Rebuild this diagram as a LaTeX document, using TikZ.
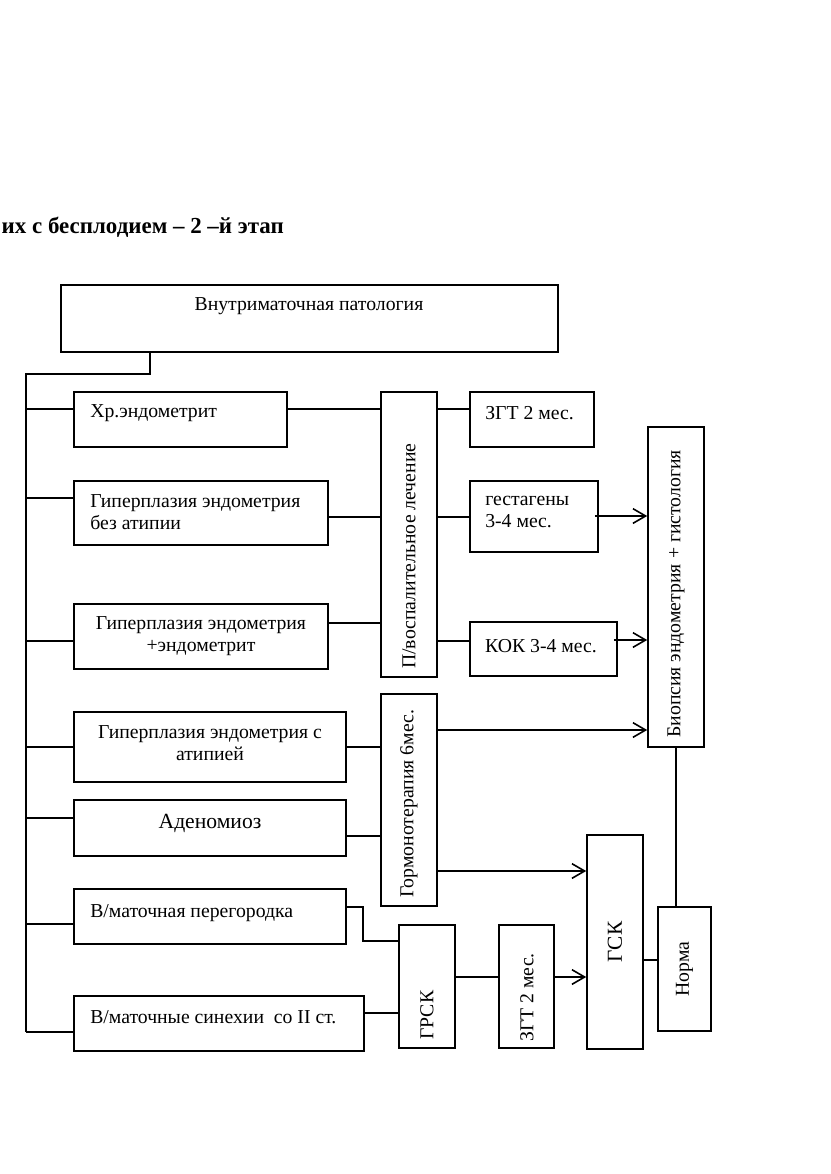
\documentclass[tikz,border=0pt]{standalone}
\usepackage{fontspec}
\setmainfont{Liberation Serif}
\usetikzlibrary{arrows.meta,fit}

\begin{document}
\begin{tikzpicture}
		[x=0.75pt,y=-0.75pt,
		%Styles
		box/.style={draw,line width=1.2pt,inner sep=0pt,fit={#1}},
		txt/.style={inner sep=0pt,font=\fontsize{14.8}{16.5}\selectfont},
		vtxt/.style={txt,rotate=90,anchor=west},
		link/.style={line width=1.2pt},
		arrow/.style={link,-{Straight Barb[length=9.5pt,width=11pt]}}
		]
		
		\useasboundingbox (0,0) rectangle (831,1174);
		
		%Title
		\node[txt,font=\fontsize{17.2}{19}\selectfont\bfseries,anchor=base east] (title) at (284,233) {их с бесплодием – 2 –й этап};
		
		%Boxes
		\node[box={(61,285)(558,352)}] (top) {};
		\node[txt] (top-t) at (309,306) {Внутриматочная патология};
		
		\node[box={(74,392)(287,447)}] (hr) {};
		\node[txt,anchor=west] (hr-t) at (90,413) {Хр.эндометрит};
		\node[box={(74,481)(328,545)}] (hyp1) {};
		\node[txt,anchor=west,align=left] (hyp1-t) at (90,512) {Гиперплазия эндометрия\\без атипии};
		\node[box={(74,604)(328,669)}] (hyp2) {};
		\node[txt,align=center] (hyp2-t) at (hyp2) {Гиперплазия эндометрия\\+эндометрит};
		\node[box={(74,712)(346,782)}] (hyp3) {};
		\node[txt,align=center] (hyp3-t) at (210,743) {Гиперплазия эндометрия с\\атипией};
		\node[box={(74,800)(346,856)}] (aden) {};
		\node[txt,font=\fontsize{16.2}{18}\selectfont] (aden-t) at (210,823) {Аденомиоз};
		\node[box={(74,889)(346,944)}] (sept) {};
		\node[txt,anchor=west] (sept-t) at (90,913) {В/маточная перегородка};
		\node[box={(74,996)(364,1051)}] (syn) {};
		\node[txt,anchor=west] (syn-t) at (90,1017) {В/маточные синехии\ \ со II ст.};
		
		\node[box={(381,392)(437,677)}] (pv) {};
		\node[vtxt] (pv-t) at (409,669) {П/воспалительное лечение};
		\node[box={(381,694)(437,906)}] (gt) {};
		\node[vtxt] (gt-t) at (409,898) {Гормонотерапия 6мес.};
		
		\node[box={(470,392)(594,447)}] (zgt) {};
		\node[txt,anchor=west] (zgt-t) at (485,413) {ЗГТ 2 мес.};
		\node[box={(470,481)(598,552)}] (gest) {};
		\node[txt,anchor=west,align=left] (gest-t) at (485,512) {гестагены\\3-4 мес.};
		\node[box={(470,622)(617,676)}] (kok) {};
		\node[txt] (kok-t) at (541,646) {КОК 3-4 мес.};
		
		\node[box={(399,925)(455,1048)}] (grsk) {};
		\node[vtxt] (grsk-t) at (427,1040) {ГРСК};
		\node[box={(499,925)(554,1048)}] (zgt2) {};
		\node[vtxt] (zgt2-t) at (527,1042) {ЗГТ 2 мес.};
		
		\node[box={(648,427)(704,747)}] (biop) {};
		\node[vtxt] (biop-t) at (676,738) {Биопсия эндометрия + гистология};
		\node[box={(587,835)(643,1049)}] (gsk) {};
		\node[txt,rotate=90,font=\fontsize{16}{18}\selectfont] (gsk-t) at (gsk) {ГСК};
		\node[box={(658,907)(711,1031)}] (norma) {};
		\node[txt,rotate=90] (norma-t) at (norma) {Норма};
		
		%Connectors
		\coordinate (branch) at (150,374);
		\coordinate (spine) at (26,374);
		\coordinate (elbow) at (363,941);
		
		\draw[link] (branch |- top.south) -- (branch) -- (spine) -- (spine |- 0,1032);
		\foreach \b/\y in {hr/409,hyp1/498,hyp2/641,hyp3/747,aden/818,sept/924,syn/1032}
			\draw[link] (spine |- 0,\y) -- (\b.west |- 0,\y);
		
		\draw[link] (hr.east |- 0,409) -- (pv.west |- 0,409);
		\draw[link] (hyp1.east |- 0,517) -- (pv.west |- 0,517);
		\draw[link] (hyp2.east |- 0,623) -- (pv.west |- 0,623);
		\draw[link] (hyp3.east |- 0,747) -- (gt.west |- 0,747);
		\draw[link] (aden.east |- 0,836) -- (gt.west |- 0,836);
		\draw[link] (sept.east |- 0,907) -| (elbow) -- (grsk.west |- elbow);
		\draw[link] (syn.east |- 0,1013) -- (grsk.west |- 0,1013);
		
		\draw[link] (pv.east |- 0,409) -- (zgt.west |- 0,409);
		\draw[link] (pv.east |- 0,517) -- (gest.west |- 0,517);
		\draw[link] (pv.east |- 0,641) -- (kok.west |- 0,641);
		
		\draw[arrow] ([xshift=-3pt]gest.east |- 0,516) -- (biop.west |- 0,516);
		\draw[arrow] ([xshift=-3pt]kok.east |- 0,640) -- (biop.west |- 0,640);
		\draw[arrow] (gt.east |- 0,730) -- (biop.west |- 0,730);
		\draw[arrow] (gt.east |- 0,871) -- (gsk.west |- 0,871);
		
		\draw[link] (grsk.east |- 0,977) -- (zgt2.west |- 0,977);
		\draw[arrow] (zgt2.east |- 0,977) -- (gsk.west |- 0,977);
		
		\draw[link] (biop.south) -- (biop.south |- norma.north);
		\draw[link] (gsk.east |- 0,960) -- (norma.west |- 0,960);
	\end{tikzpicture}
\end{document}
